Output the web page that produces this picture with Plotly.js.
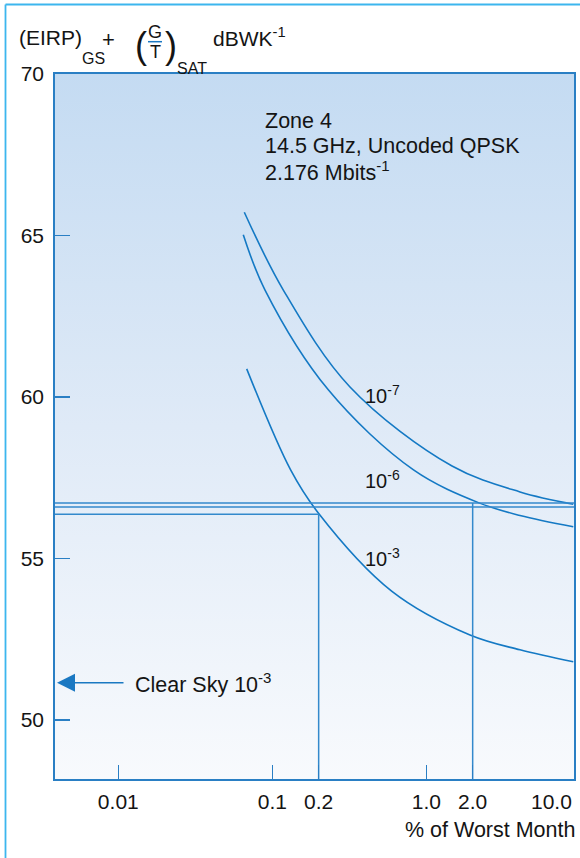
<!DOCTYPE html>
<html>
<head>
<meta charset="utf-8">
<script src="https://cdn.plot.ly/plotly-3.0.1.min.js"></script>
<style>
html,body{margin:0;padding:0;background:#fff;}
#chart{width:580px;height:858px;}
</style>
</head>
<body>
<div id="chart"></div>
<script>
// ---------- data ----------
const curveNames = ['10<sup>-7</sup>', '10<sup>-6</sup>', '10<sup>-3</sup>'];
const pctE7   = [0.0658, 0.1179, 0.3195, 1.469, 4.059, 9.0];
const levelE7 = [65.72, 63.31, 60.31, 57.86, 57.06, 56.68];
const pctE6   = [0.0648, 0.0897, 0.231, 0.826, 2.199, 4.059, 9.0];
const levelE6 = [65.02, 63.31, 60.22, 57.74, 56.72, 56.33, 55.98];
const pctE3   = [0.0682, 0.1315, 0.1966, 0.5953, 1.922, 4.059, 9.0];
const levelE3 = [60.87, 57.74, 56.44, 53.99, 52.63, 52.17, 51.80];

const thresholdLevels = [56.72, 56.59];      // double horizontal line
const markPercents    = [0.2, 2.0];          // vertical read-off lines
const markLevels      = [56.37, 56.72];      // where they start
const clearSkyLevel   = 51.15;

const xTickVals = [0.01, 0.1, 0.2, 1, 2];
const xTickText = ['0.01', '0.1', '0.2', '1.0', '2.0'];
const xEndLabel = '10.0';
const yTickVals = [50, 55, 60, 65, 70];
const xLogRange = [-2.411, 0.959];
const yRange = [48.17, 70];

const infoLines = ['Zone 4', '14.5 GHz, Uncoded QPSK', '2.176 Mbits<sup>-1</sup>'];
const clearSkyText = 'Clear Sky 10<sup>-3</sup>';
const xTitle = '% of Worst Month';

// ---------- style ----------
const FONT = 'Liberation Sans, Arial, Helvetica, sans-serif';
const AXIS = '#2a7fc4';
const CURVE = '#1479c4';
const REF = '#3389cc';
const TXT = '#141414';

const W = 580, H = 858, M = {l:55, r:6, t:74, b:79};
const PW = W - M.l - M.r, PH = H - M.t - M.b;
const xp = px => (px - M.l) / PW;
const yp = py => (H - M.b - py) / PH;

const xMin = Math.pow(10, xLogRange[0]);
const xMax = Math.pow(10, xLogRange[1]);

const curve = (x, y) => ({x, y, type:'scatter', mode:'lines',
  line:{color:CURVE, width:1.6, shape:'spline', smoothing:1.0}, hoverinfo:'skip'});
const ref = (x, y) => ({x, y, type:'scatter', mode:'lines',
  line:{color:REF, width:1.5}, hoverinfo:'skip'});

const traces = [
  curve(pctE7, levelE7), curve(pctE6, levelE6), curve(pctE3, levelE3),
  ref([xMin, xMax], [thresholdLevels[0], thresholdLevels[0]]),
  ref([xMin, xMax], [thresholdLevels[1], thresholdLevels[1]]),
  ref([xMin, markPercents[0]], [markLevels[0], markLevels[0]]),
  ref([markPercents[0], markPercents[0]], [markLevels[0], yRange[0]]),
  ref([markPercents[1], markPercents[1]], [markLevels[1], yRange[0]])
];

const gradSvg = "<svg xmlns='http://www.w3.org/2000/svg' width='10' height='100' preserveAspectRatio='none'>" +
  "<defs><linearGradient id='g' x1='0' y1='0' x2='0' y2='1'>" +
  "<stop offset='0' stop-color='#c4dbf2'/><stop offset='0.5' stop-color='#dfeaf7'/><stop offset='1' stop-color='#f8fafd'/>" +
  "</linearGradient></defs><rect width='10' height='100' fill='url(#g)'/></svg>";

const ann = (text, x, y, size, xanchor, extra) => Object.assign({
  text, x: xp(x), y: yp(y), xref:'paper', yref:'paper', xanchor: xanchor || 'left', yanchor:'middle',
  showarrow:false, font:{family:FONT, size, color:TXT}
}, extra || {});

const annotations = [
  // y-axis title pieces
  ann('(EIRP)', 17, 37.5, 21),
  ann('GS', 80, 58.5, 16),
  ann('+', 100, 39, 22),
  ann('(', 133, 46, 36),
  ann('G', 155, 32, 18, 'center'),
  ann('T', 155, 52.5, 18, 'center'),
  ann(')', 163, 46, 36),
  ann('SAT', 175, 68.5, 16),
  ann('dBWK<sup>-1</sup>', 211, 37.5, 21),
  // info text
  ann(infoLines[0], 263, 121, 21.5),
  ann(infoLines[1], 263, 146, 21.5),
  ann(infoLines[2], 263, 171, 21.5),
  // curve labels
  ann(curveNames[0], 363, 394, 20),
  ann(curveNames[1], 363, 479, 20),
  ann(curveNames[2], 363, 557, 20),
  // clear sky
  ann(clearSkyText, 133, 683, 21.5),
  {x: xp(57), y: clearSkyLevel, xref:'paper', yref:'y', text:'', showarrow:true,
   ax: 68, ay: 0, axref:'pixel', ayref:'pixel', arrowhead:2, arrowsize:2.4, arrowwidth:1.5,
   arrowcolor:'#1a78c2', standoff:0},
  // x end label and title
  ann(xEndLabel, 574, 801, 21, 'right'),
  ann(xTitle, 577, 830, 21.5, 'right')
];

const shapes = [
  {type:'line', xref:'paper', yref:'paper', x0:xp(5.5), x1:xp(5.5), y0:yp(870), y1:yp(4.5),
   line:{color:'#3cb6ee', width:1.8}},
  {type:'line', xref:'paper', yref:'paper', x0:xp(5.5), x1:xp(600), y0:yp(4.5), y1:yp(4.5),
   line:{color:'#3cb6ee', width:1.8}},
  {type:'line', xref:'paper', yref:'paper', x0:xp(148), x1:xp(162), y0:yp(41.7), y1:yp(41.7),
   line:{color:'#1a78c2', width:1.5}}
];

const layout = {
  width:W, height:H, margin:M, autosize:false,
  paper_bgcolor:'#ffffff', plot_bgcolor:'rgba(0,0,0,0)',
  showlegend:false,
  font:{family:FONT, size:21, color:TXT},
  xaxis:{type:'log', range:xLogRange, tickvals:xTickVals, ticktext:xTickText,
    ticks:'inside', ticklen:14, tickwidth:1.5, tickcolor:AXIS,
    showline:true, mirror:true, linecolor:AXIS, linewidth:1.8,
    showgrid:false, zeroline:false, tickfont:{family:FONT, size:21, color:TXT}, ticklabelstandoff:3},
  yaxis:{range:yRange, tickvals:yTickVals, ticks:'inside', ticklen:15, tickwidth:1.5, tickcolor:AXIS,
    showline:true, mirror:true, linecolor:AXIS, linewidth:1.8,
    showgrid:false, zeroline:false, tickfont:{family:FONT, size:21, color:TXT}, ticklabelstandoff:5},
  images:[{source:'data:image/svg+xml;utf8,' + encodeURIComponent(gradSvg),
    xref:'paper', yref:'paper', x:0, y:1, sizex:1, sizey:1, sizing:'stretch', layer:'below',
    xanchor:'left', yanchor:'top'}],
  annotations, shapes
};

Plotly.newPlot('chart', traces, layout, {staticPlot:true, displayModeBar:false});
</script>
</body>
</html>
